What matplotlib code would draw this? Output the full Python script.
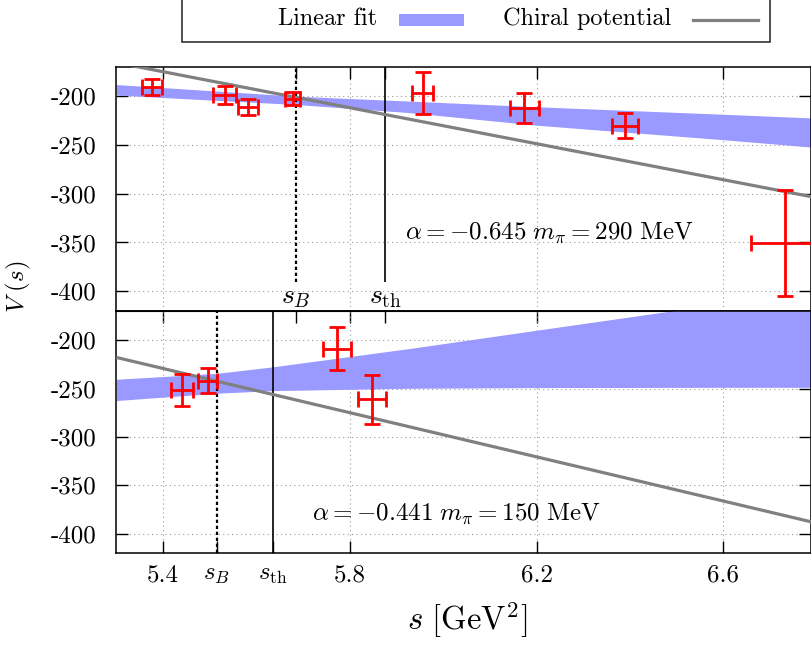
import matplotlib
matplotlib.use("Agg")
import matplotlib.pyplot as plt
from matplotlib.patches import Rectangle
from matplotlib.lines import Line2D

plt.rcParams['font.family'] = 'cmr10'
plt.rcParams['mathtext.fontset'] = 'cm'
plt.rcParams['axes.unicode_minus'] = False

# upper panel (m_pi = 290 MeV)
top_s = [5.377, 5.532, 5.582, 5.678, 5.956, 6.174, 6.390, 6.731]
top_V = [-191.0, -199.0, -210.8, -202.6, -196.5, -212.0, -230.2, -350.5]
top_ds = [0.022, 0.024, 0.022, 0.016, 0.023, 0.031, 0.028, 0.071]
top_dV = [8.2, 9.3, 8.0, 6.9, 21.3, 15.8, 12.5, 54.0]

top_fit_s = [5.30, 5.686, 5.928, 6.20, 6.60, 6.79]
top_fit_hi = [-188.0, -200.0, -205.0, -210.8, -218.5, -222.3]
top_fit_lo = [-198.8, -208.5, -216.8, -229.7, -244.6, -252.2]

top_chiral_s = [5.30, 6.79]
top_chiral_V = [-165.6, -303.2]

top_sB, top_sth = 5.684, 5.876

# lower panel (m_pi = 150 MeV)
bot_s = [5.441, 5.496, 5.773, 5.848]
bot_V = [-251.6, -241.7, -208.6, -261.0]
bot_ds = [0.024, 0.020, 0.030, 0.030]
bot_dV = [16.3, 13.2, 22.6, 25.2]

bot_fit_s = [5.30, 5.515, 5.636, 5.928, 6.20, 6.485, 6.79]
bot_fit_hi = [-240.4, -234.3, -227.5, -208.6, -189.7, -170.0, -150.0]
bot_fit_lo = [-262.4, -254.8, -252.1, -249.7, -249.0, -248.8, -248.7]

bot_chiral_s = [5.30, 6.79]
bot_chiral_V = [-217.8, -388.0]

bot_sB, bot_sth = 5.515, 5.636

xticks = [5.4, 5.8, 6.2, 6.6]
xticklabels = ["5.4", "5.8", "6.2", "6.6"]
yticks = [-200, -250, -300, -350, -400]
yticklabels = ["-200", "-250", "-300", "-350", "-400"]

band_col = "#9999ff"
line_col = "#808080"
fs = 18

W, H = 811, 645
fig = plt.figure(figsize=(W / 100, H / 100), dpi=100)


def fx(x):
    return x / W


def fy(y):
    return 1 - y / H


ax1 = fig.add_axes([fx(116), fy(310.7), fx(811) - fx(116), fy(66.5) - fy(310.7)])
ax2 = fig.add_axes([fx(116), fy(553), fx(811) - fx(116), fy(310.7) - fy(553)])

panels = [
    (ax1, top_s, top_V, top_ds, top_dV, top_fit_s, top_fit_hi, top_fit_lo, top_chiral_s, top_chiral_V),
    (ax2, bot_s, bot_V, bot_ds, bot_dV, bot_fit_s, bot_fit_hi, bot_fit_lo, bot_chiral_s, bot_chiral_V),
]
for ax, s, V, ds, dV, fs_, hi, lo, cs, cV in panels:
    ax.fill_between(fs_, lo, hi, color=band_col, lw=0, zorder=1)
    ax.plot(cs, cV, color=line_col, lw=2.3, zorder=3, solid_capstyle='butt')
    ax.errorbar(s, V, xerr=ds, yerr=dV, fmt='none', ecolor='red', elinewidth=2,
                capsize=5.5, capthick=2, zorder=4)
    ax.set_xlim(5.2995, 6.7876)
    ax.set_ylim(-420, -169.5)
    ax.set_yticks(yticks, labels=yticklabels)
    ax.grid(True, which='major', color='#999999', ls=(0, (1, 3)), lw=0.8)
    ax.set_axisbelow(True)
    ax.tick_params(axis='y', direction='in', left=True, right=True, length=8.5,
                   width=1, labelsize=fs, pad=14)
    for sp in ax.spines.values():
        sp.set_linewidth(1.1)

# top panel x axis: ticks only on top
ax1.set_xticks(xticks)
ax1.set_xticks([top_sB, top_sth], minor=True)
ax1.tick_params(axis='x', which='both', direction='in', top=True, bottom=False,
                labelbottom=False, length=8.5, width=1)
ax1.vlines(top_sB, -391, -169.5, color='black', lw=1.6, ls=(0, (1.5, 1.2)), zorder=2)
ax1.vlines(top_sth, -391, -169.5, color='black', lw=1.2, zorder=2)
ax1.text(top_sB, -406, r"$s_B$", fontsize=fs + 2, ha='center', va='center')
ax1.text(top_sth, -406, r"$s_{\rm th}$", fontsize=fs + 2, ha='center', va='center')
ax1.text(5.918, -340, r"$\alpha = -0.645\ m_\pi = 290\ \mathrm{MeV}$", fontsize=fs,
         ha='left', va='center')

# bottom panel x axis
ax2.set_xticks(xticks, labels=xticklabels)
ax2.set_xticks([bot_sB, bot_sth], labels=[r"$s_B$", r"$s_{\rm th}$"], minor=True)
ax2.tick_params(axis='x', which='both', direction='in', top=False, bottom=True,
                length=8.5, width=1, labelsize=fs, pad=8)
sec = ax2.secondary_xaxis('top')
sec.set_xticks([5.4, top_sB, 5.8, top_sth, 6.2, 6.6])
sec.tick_params(axis='x', direction='in', length=8.5, width=1, labeltop=False)
ax2.axvline(bot_sB, color='black', lw=1.6, ls=(0, (1.5, 1.2)), zorder=2)
ax2.axvline(bot_sth, color='black', lw=1.2, zorder=2)
ax2.text(5.72, -379, r"$\alpha = -0.441\ m_\pi = 150\ \mathrm{MeV}$", fontsize=fs,
         ha='left', va='center')

fig.text(fx(467), fy(620), r"$s\ [\mathrm{GeV}^2]$", fontsize=23.5, ha='center', va='center')
fig.text(fx(18), fy(287), r"$V\ (s)$", fontsize=fs, ha='center', va='center', rotation=90)

# key box
fig.add_artist(Rectangle((fx(182.3), fy(41.7)), fx(770) - fx(182.3), fy(-5) - fy(41.7),
                         transform=fig.transFigure, facecolor='white', edgecolor='#222222',
                         lw=1.1, zorder=5))
fig.text(fx(376.7), fy(19), "Linear fit", fontsize=17.5, ha='right', va='center', zorder=6)
fig.add_artist(Rectangle((fx(399.3), fy(26)), fx(464) - fx(399.3), fy(14.3) - fy(26),
                         transform=fig.transFigure, facecolor=band_col, lw=0, zorder=6))
fig.text(fx(671.7), fy(19), "Chiral potential", fontsize=17.5, ha='right', va='center', zorder=6)
fig.add_artist(Line2D([fx(692.7), fx(758.3)], [fy(20.3), fy(20.3)], transform=fig.transFigure,
                      color=line_col, lw=2.3, zorder=6))

fig.savefig("out.png", dpi=100)
